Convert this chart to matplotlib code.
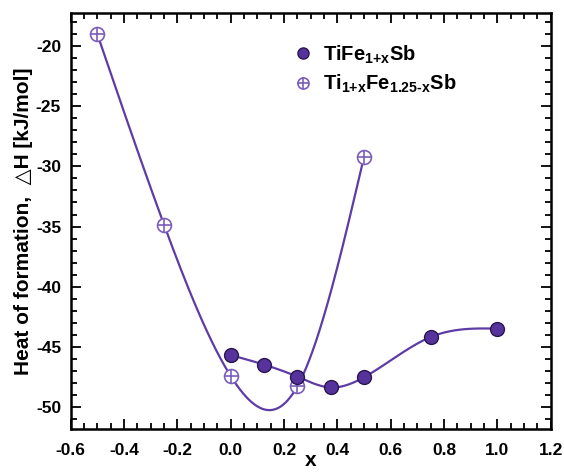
import numpy as np
import matplotlib
matplotlib.use('Agg')
import matplotlib.pyplot as plt
from matplotlib.ticker import MultipleLocator

plt.rcParams['font.family'] = ['Liberation Sans', 'DejaVu Sans']
plt.rcParams['font.weight'] = 'bold'
plt.rcParams['axes.unicode_minus'] = False
plt.rcParams['mathtext.fontset'] = 'custom'
plt.rcParams['mathtext.rm'] = 'Liberation Sans:bold'
plt.rcParams['mathtext.it'] = 'Liberation Sans:bold'
plt.rcParams['mathtext.bf'] = 'Liberation Sans:bold'

# TiFe(1+x)Sb
x_fe = [0.0, 0.125, 0.25, 0.375, 0.5, 0.75, 1.0]
h_fe = [-45.7, -46.5, -47.5, -48.4, -47.55, -44.2, -43.5]

# Ti(1+x)Fe(1.25-x)Sb
x_ti = [-0.5, -0.25, 0.0, 0.25, 0.5]
h_ti = [-19.0, -34.85, -47.45, -48.3, -29.2]

xticks = [-0.6, -0.4, -0.2, 0.0, 0.2, 0.4, 0.6, 0.8, 1.0, 1.2]
yticks = [-50, -45, -40, -35, -30, -25, -20]

line_col = '#5e3ca6'
fill_col = '#56339c'
open_col = '#7b5dbb'


def spline(xs, ys, n=300):
    # natural cubic spline through the points
    xs = np.asarray(xs, float)
    ys = np.asarray(ys, float)
    m = len(xs)
    h = np.diff(xs)
    A = np.zeros((m, m))
    r = np.zeros(m)
    A[0, 0] = A[-1, -1] = 1
    for i in range(1, m - 1):
        A[i, i - 1] = h[i - 1]
        A[i, i] = 2 * (h[i - 1] + h[i])
        A[i, i + 1] = h[i]
        r[i] = 6 * ((ys[i + 1] - ys[i]) / h[i] - (ys[i] - ys[i - 1]) / h[i - 1])
    M = np.linalg.solve(A, r)
    xx = np.linspace(xs[0], xs[-1], n)
    k = np.clip(np.searchsorted(xs, xx) - 1, 0, m - 2)
    t1 = xs[k + 1] - xx
    t0 = xx - xs[k]
    hk = h[k]
    yy = (M[k] * t1**3 + M[k + 1] * t0**3) / (6 * hk) \
        + (ys[k] / hk - M[k] * hk / 6) * t1 \
        + (ys[k + 1] / hk - M[k + 1] * hk / 6) * t0
    return xx, yy


fig = plt.figure(figsize=(5.64, 4.75), dpi=100)
ax = fig.add_axes([0.1254, 0.0968, 0.851, 0.8764])

sx, sy = spline(x_ti, h_ti)
ax.plot(sx, sy, color=line_col, lw=1.6, zorder=2)
sx, sy = spline(x_fe, h_fe)
ax.plot(sx, sy, color=line_col, lw=1.6, zorder=2)

p1, = ax.plot(x_fe, h_fe, 'o', ms=10, mfc=fill_col, mec='#2a1650', mew=1.0,
              ls='none', zorder=4)
p2a, = ax.plot(x_ti, h_ti, 'o', ms=10, mfc='white', mec=open_col, mew=1.2,
               ls='none', zorder=3)
p2b, = ax.plot(x_ti, h_ti, '+', ms=10, mec=open_col, mew=1.2,
               ls='none', zorder=3)

ax.legend([p1, (p2a, p2b)],
          [r'TiFe$_{\mathregular{1{+}x}}$Sb',
           'Ti$_{\\mathregular{1{+}x}}$Fe$_{\\mathregular{1.25\u2010x}}$Sb'],
          loc='upper left', bbox_to_anchor=(0.425, 0.97), frameon=False,
          fontsize=14.5, handlelength=1.0, handletextpad=0.5,
          labelspacing=0.35, markerscale=0.8)

ax.set_xlim(-0.6, 1.2)
ax.set_ylim(-51.86, -17.2)
ax.set_xticks(xticks)
ax.set_yticks(yticks)
ax.set_xticklabels(['%.1f' % v for v in xticks], fontweight='bold')
ax.set_yticklabels(['%d' % v for v in yticks], fontweight='bold')
ax.xaxis.set_minor_locator(MultipleLocator(0.05))
ax.yaxis.set_minor_locator(MultipleLocator(1))
ax.tick_params(which='both', direction='in', top=True, right=True, width=1.3,
               labelsize=12.5)
ax.tick_params(which='major', length=7)
ax.tick_params(which='minor', length=4)
ax.tick_params(axis='x', which='major', pad=10)
ax.tick_params(axis='y', which='major', pad=7)
for s in ax.spines.values():
    s.set_linewidth(1.8)

ax.set_xlabel('x', fontsize=15, fontweight='bold', labelpad=-5)
ax.set_ylabel('Heat of formation,  \u25b3H [kJ/mol]', fontsize=15,
              fontweight='bold', labelpad=2)

fig.savefig('out.png', dpi=100)
